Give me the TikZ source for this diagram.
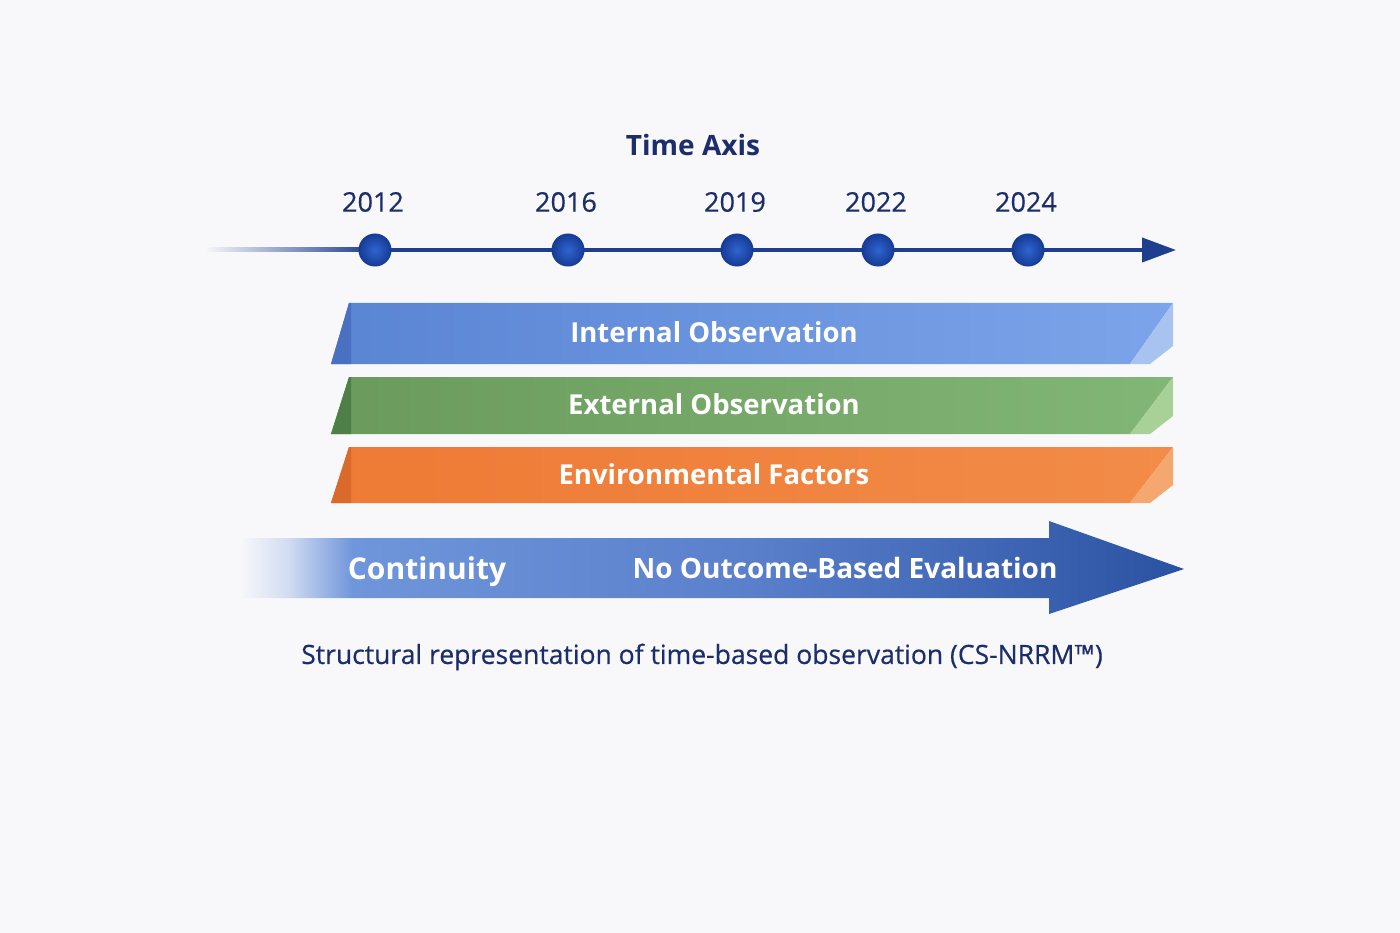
\documentclass[tikz,border=0pt]{standalone}
\usepackage{fontspec}
\setmainfont{Open Sans}
\newfontfamily\medfont{Open Sans}[FakeBold=0.5]
\usepackage{xcolor}
\usepackage{tikz}
\usetikzlibrary{arrows.meta,shadings,positioning}

\definecolor{bgwhite}{HTML}{F8F8FA}
\definecolor{navy}{HTML}{1B2D6B}
\definecolor{axisblue}{HTML}{1E3F8F}
\definecolor{dotlight}{HTML}{2F64CE}
\definecolor{dotdark}{HTML}{163C96}
\definecolor{internalL}{HTML}{5A85D3}
\definecolor{internalR}{HTML}{7CA4EA}
\definecolor{internalF}{HTML}{A9C3F1}
\definecolor{internalD}{HTML}{4A70C2}
\definecolor{externalL}{HTML}{6A9B5D}
\definecolor{externalR}{HTML}{82B676}
\definecolor{externalF}{HTML}{A7D196}
\definecolor{externalD}{HTML}{4F7F48}
\definecolor{environL}{HTML}{EE7A35}
\definecolor{environR}{HTML}{F28C48}
\definecolor{environF}{HTML}{F4A86F}
\definecolor{environD}{HTML}{D96A2B}
\definecolor{contpale}{HTML}{D2DDF2}
\definecolor{contlight}{HTML}{6F95DA}
\definecolor{contmid}{HTML}{5A80CC}
\definecolor{contdark}{HTML}{2B52A2}

\pgfdeclarehorizontalshading{contshade}{100bp}{color(0bp)=(bgwhite); color(25bp)=(bgwhite); color(27.5bp)=(contpale); color(31bp)=(contlight); color(52bp)=(contmid); color(75bp)=(contdark); color(100bp)=(contdark)}

\begin{document}
\begin{tikzpicture}[x=1pt, y=-1pt,
                    axistitle/.style={font=\bfseries\fontsize{28}{32}\selectfont, text=navy},
                    yearlabel/.style={font=\medfont\fontsize{27}{30}\selectfont, text=navy},
                    yeardot/.style={circle, minimum size=32pt, inner sep=0pt, inner color=dotlight, outer color=dotdark, draw=dotdark, line width=1pt},
                    axisline/.style={line width=4pt, axisblue, -{Triangle[length=34pt,width=24pt]}},
                    bandtext/.style={font=\bfseries\fontsize{27.5}{30}\selectfont, text=white},
                    arrowtext/.style={font=\bfseries\fontsize{28}{32}\selectfont, text=white, anchor=base},
                    caption/.style={font=\medfont\fontsize{26.5}{30}\selectfont, text=navy},
                   ]

\fill[bgwhite] (0,0) rectangle (1400,933);
\useasboundingbox (0,0) rectangle (1400,933);

\node[axistitle] (title) at (693,145) {Time Axis};

\coordinate (axstart) at (370,250);
\coordinate (axend) at (1176,250);

\shade[left color=bgwhite, right color=axisblue] (205,248) rectangle (372,252);
\draw[axisline] (axstart) -- (axend);

\foreach \yr/\x [count=\i] in {2012/375, 2016/568, 2019/737, 2022/878, 2024/1028} {
  \node[yeardot] (dot\i) at (\x,250) {};
  \node[yearlabel] (year\i) at (\x-2,202) {\yr};
}

\foreach \name/\top/\bot/\txt in {internal/303/364/Internal Observation,
                                  external/377/434/External Observation,
                                  environ/447/503/Environmental Factors} {
  \shade[left color=\name L, right color=\name R] (331,\bot) -- (349,\top) -- (1173,\top) -- (1130,\bot) -- cycle;
  \fill[\name F] (1173,\top) -- (1173,\bot-18) -- (1150,\bot) -- (1130,\bot) -- cycle;
  \fill[\name D] (331,\bot) -- (349,\top) -- (351,\top) -- (351,\bot) -- cycle;
  \node[bandtext] (\name) at (714,{(\top+\bot)/2-1}) {\txt};
}

\shade[shading=contshade] (240,538) -- (1049,538) -- (1049,521) -- (1184,569) -- (1049,614) -- (1049,598) -- (240,598) -- cycle;
\node[arrowtext, font=\bfseries\fontsize{30}{34}\selectfont] (contin) at (427,579) {Continuity};
\node[arrowtext] (nooutcome) at (845,578) {No Outcome-Based Evaluation};

\node[caption] (capt) at (702,657) {Structural representation of time-based observation (CS-NRRM™)};

\end{tikzpicture}
\end{document}
